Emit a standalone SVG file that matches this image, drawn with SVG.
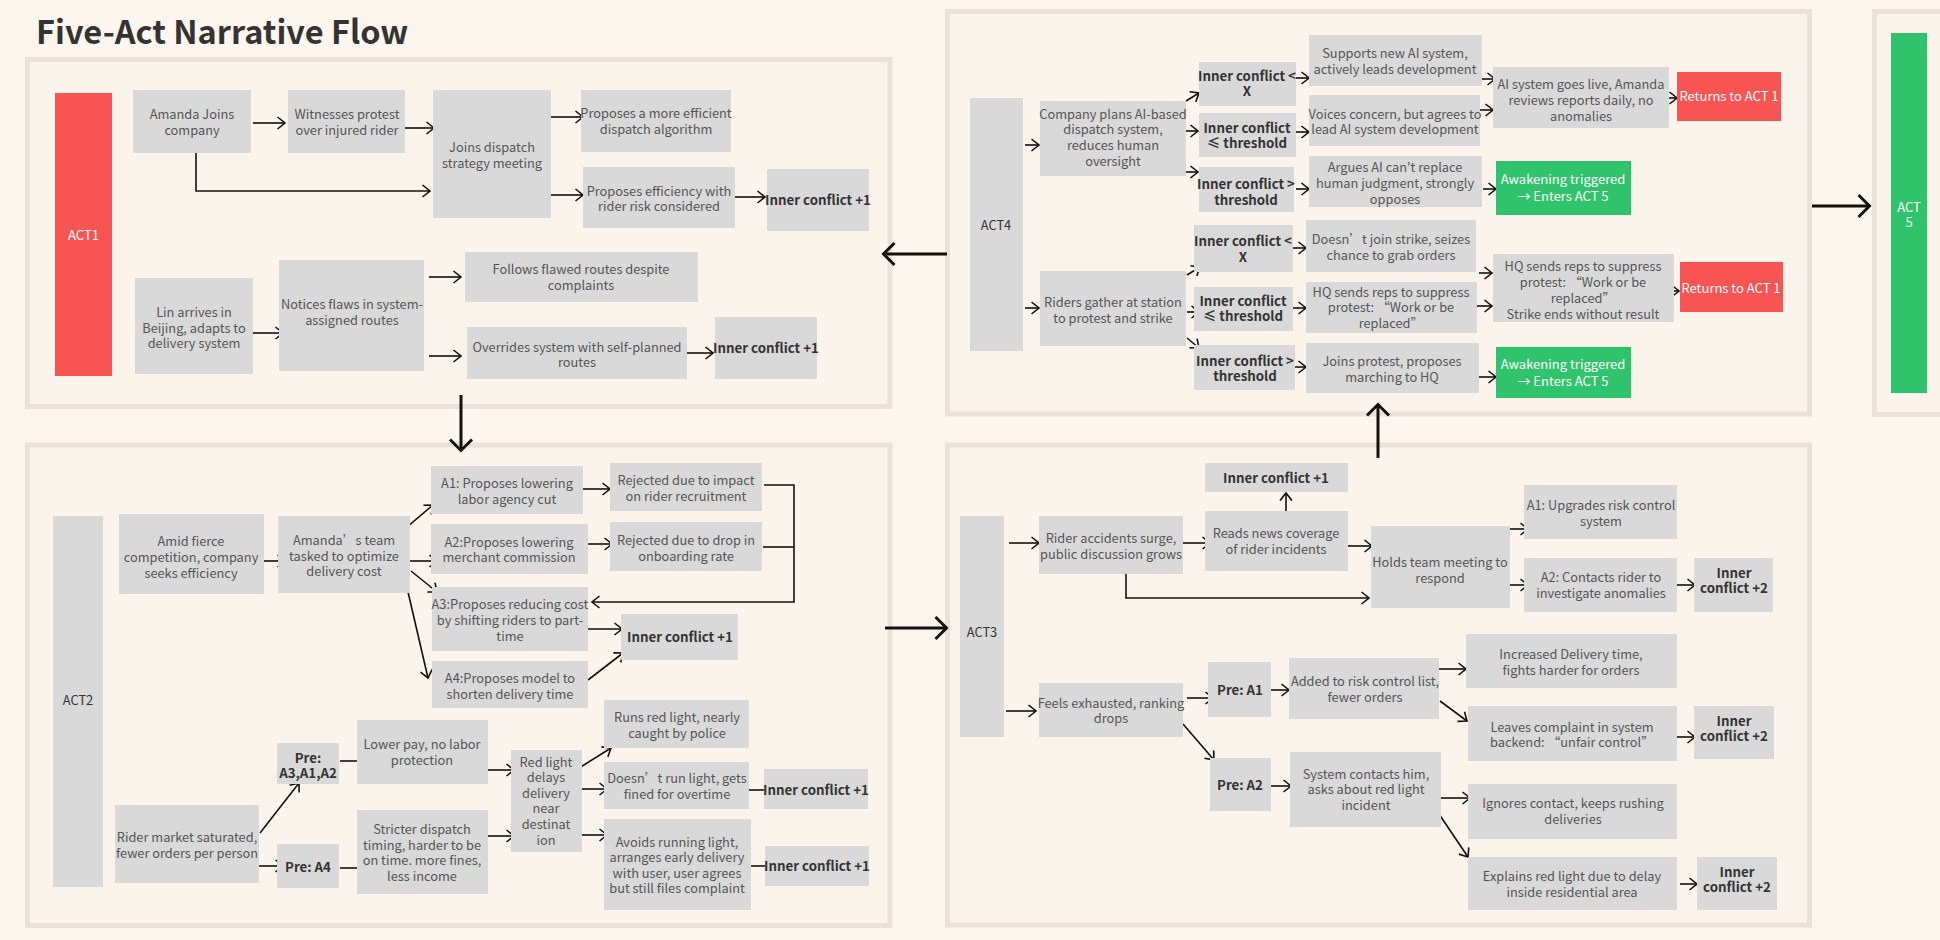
<svg xmlns="http://www.w3.org/2000/svg" width="1940" height="940" viewBox="0 0 1940 940">
<defs>
<style>
text{font-family:"Noto Sans CJK SC","Liberation Sans",sans-serif;font-size:12.8px;text-anchor:middle}
.panel{fill:#FBF4EC;stroke:#EAE2D8;stroke-width:5}
.box{fill:#D9D9D9}
.red{fill:#F95454}
.grn{fill:#2FC46B}
.t{fill:#555555}
.b{fill:#333333;font-weight:700;font-size:13.3px}
.d{fill:#333333}
.w{fill:#FFFFFF;font-size:13px}
.c{stroke:#111;stroke-width:1.6;fill:none;marker-end:url(#ah)}
.cn{stroke:#111;stroke-width:1.6;fill:none}
.big{stroke:#111;stroke-width:3;fill:none;marker-end:url(#bh)}
</style>
<marker id="ah" markerUnits="userSpaceOnUse" viewBox="0 0 10 14" markerWidth="10" markerHeight="14" refX="8.5" refY="7" orient="auto">
<path d="M1,1 L8.5,7 L1,13" fill="none" stroke="#111" stroke-width="1.6"/>
</marker>
<marker id="bh" markerUnits="userSpaceOnUse" viewBox="0 0 16 26" markerWidth="16" markerHeight="26" refX="13.5" refY="13" orient="auto">
<path d="M2,2 L13,13 L2,24" fill="none" stroke="#111" stroke-width="3"/>
</marker>
</defs>
<rect x="0" y="0" width="1940" height="940" fill="#FDF6EE"/>
<text x="36" y="44" style="font-size:32.5px;font-weight:700;text-anchor:start;fill:#333">Five-Act Narrative Flow</text>

<g id="panels">
<rect class="panel" x="27.5" y="59.5" width="862.5" height="347"/>
<rect class="panel" x="27.5" y="445" width="862.5" height="480.5"/>
<rect class="panel" x="947.5" y="445" width="862" height="480"/>
<rect class="panel" x="947.5" y="11.5" width="862" height="402.5"/>
<rect class="panel" x="1874.5" y="11.5" width="200" height="403"/>
</g>

<g id="connectors">
<!-- ACT1 -->
<line class="c" x1="253" y1="123" x2="285" y2="123"/>
<line class="c" x1="402" y1="128" x2="434" y2="128"/>
<polyline class="c" points="196,150 196,191 430,191"/>
<line class="c" x1="551" y1="117" x2="583" y2="117"/>
<line class="c" x1="551" y1="195" x2="583" y2="195"/>
<line class="c" x1="734" y1="197" x2="765" y2="197"/>
<line class="c" x1="251" y1="333" x2="283" y2="333"/>
<line class="c" x1="429" y1="277" x2="461" y2="277"/>
<line class="c" x1="429" y1="356" x2="461" y2="356"/>
<line class="c" x1="682" y1="353" x2="713" y2="353"/>
<!-- between acts -->
<line class="big" x1="461" y1="395" x2="461" y2="451"/>
<line class="big" x1="947" y1="254" x2="883" y2="254"/>
<line class="big" x1="885" y1="628" x2="947" y2="628"/>
<line class="big" x1="1378" y1="458" x2="1378" y2="404"/>
<line class="big" x1="1812" y1="206" x2="1870" y2="206"/>
<!-- ACT2 -->
<line class="c" x1="259" y1="561" x2="285" y2="561"/>
<line class="c" x1="407" y1="527" x2="433" y2="505"/>
<line class="c" x1="409" y1="561" x2="437" y2="561"/>
<line class="c" x1="411" y1="571" x2="437" y2="592"/>
<line class="c" x1="408" y1="592" x2="428" y2="678"/>
<line class="c" x1="583" y1="489" x2="610" y2="489"/>
<line class="c" x1="585" y1="544" x2="612" y2="544"/>
<polyline class="c" points="764,485 794,485 794,602 592,602"/>
<line class="cn" x1="763" y1="547" x2="794" y2="547"/>
<line class="c" x1="585" y1="629" x2="622" y2="629"/>
<line class="c" x1="588" y1="680" x2="623" y2="653"/>
<line class="c" x1="260" y1="833" x2="299" y2="783"/>
<line class="c" x1="258" y1="866" x2="283" y2="866"/>
<line class="c" x1="340" y1="761" x2="367" y2="761"/>
<line class="c" x1="340" y1="868" x2="367" y2="868"/>
<line class="c" x1="487" y1="770" x2="514" y2="770"/>
<line class="c" x1="487" y1="836" x2="514" y2="836"/>
<line class="c" x1="579" y1="768" x2="611" y2="748"/>
<line class="c" x1="582" y1="789" x2="607" y2="789"/>
<line class="c" x1="582" y1="835" x2="607" y2="835"/>
<line class="cn" x1="748" y1="790" x2="764" y2="790"/>
<line class="cn" x1="751" y1="866" x2="765" y2="866"/>
<!-- ACT3 -->
<line class="c" x1="1009" y1="543" x2="1039" y2="543"/>
<line class="c" x1="1180" y1="543" x2="1210" y2="543"/>
<line class="c" x1="1286" y1="519" x2="1286" y2="493"/>
<line class="c" x1="1342" y1="546" x2="1372" y2="546"/>
<polyline class="c" points="1126,573 1126,598 1369,598"/>
<line class="c" x1="1510" y1="529" x2="1528" y2="529"/>
<line class="c" x1="1510" y1="585" x2="1528" y2="585"/>
<line class="c" x1="1677" y1="585" x2="1695" y2="585"/>
<line class="c" x1="1006" y1="711" x2="1036" y2="711"/>
<line class="c" x1="1187" y1="698" x2="1213" y2="698"/>
<line class="c" x1="1183" y1="724" x2="1214" y2="760"/>
<line class="c" x1="1270" y1="690" x2="1289" y2="690"/>
<line class="c" x1="1271" y1="786" x2="1291" y2="786"/>
<line class="c" x1="1436" y1="669" x2="1466" y2="669"/>
<line class="c" x1="1440" y1="701" x2="1467" y2="721"/>
<line class="c" x1="1677" y1="737" x2="1695" y2="737"/>
<line class="c" x1="1439" y1="798" x2="1470" y2="798"/>
<line class="c" x1="1439" y1="814" x2="1468" y2="857"/>
<line class="c" x1="1680" y1="884" x2="1697" y2="884"/>
<!-- ACT4 -->
<line class="c" x1="1025" y1="145" x2="1039" y2="145"/>
<line class="c" x1="1025" y1="308" x2="1039" y2="308"/>
<line class="c" x1="1186" y1="101" x2="1199" y2="93"/>
<line class="c" x1="1184" y1="131" x2="1198" y2="131"/>
<line class="c" x1="1184" y1="172" x2="1198" y2="172"/>
<line class="c" x1="1296" y1="78" x2="1309" y2="78"/>
<line class="c" x1="1296" y1="132" x2="1309" y2="132"/>
<line class="c" x1="1296" y1="189" x2="1309" y2="189"/>
<line class="c" x1="1187" y1="275" x2="1200" y2="267"/>
<line class="c" x1="1187" y1="312" x2="1199" y2="312"/>
<line class="c" x1="1187" y1="338" x2="1199" y2="348"/>
<line class="c" x1="1293" y1="248" x2="1306" y2="248"/>
<line class="c" x1="1293" y1="308" x2="1306" y2="308"/>
<line class="c" x1="1293" y1="367" x2="1306" y2="367"/>
<line class="c" x1="1482" y1="79" x2="1495" y2="79"/>
<line class="c" x1="1480" y1="110" x2="1493" y2="110"/>
<line class="c" x1="1662" y1="98" x2="1677" y2="98"/>
<line class="c" x1="1483" y1="189" x2="1496" y2="189"/>
<line class="c" x1="1479" y1="273" x2="1492" y2="273"/>
<line class="c" x1="1477" y1="306" x2="1492" y2="306"/>
<line class="c" x1="1665" y1="291" x2="1679" y2="291"/>
<line class="c" x1="1479" y1="377" x2="1496" y2="377"/>
</g>

<!-- ACT1 nodes -->
<g id="act1"><rect class="red" x="55" y="93" width="57" height="283"/><text class="w" x="83.5" y="240">ACT1</text></g>
<g id="n_amanda"><rect class="box" x="133" y="90" width="118" height="63"/><text class="t"><tspan x="192" y="119">Amanda Joins</tspan><tspan x="192" y="135">company</tspan></text></g>
<g id="n_witness"><rect class="box" x="288" y="90" width="117" height="63"/><text class="t"><tspan x="347" y="119">Witnesses protest</tspan><tspan x="347" y="135">over injured rider</tspan></text></g>
<g id="n_joins"><rect class="box" x="433" y="90" width="118" height="128"/><text class="t"><tspan x="492" y="152">Joins dispatch</tspan><tspan x="492" y="168">strategy meeting</tspan></text></g>
<g id="n_prop1"><rect class="box" x="581" y="90" width="150" height="62"/><text class="t"><tspan x="656" y="118">Proposes a more efficient</tspan><tspan x="656" y="134">dispatch algorithm</tspan></text></g>
<g id="n_prop2"><rect class="box" x="583" y="167" width="152" height="61"/><text class="t"><tspan x="659" y="196">Proposes efficiency with</tspan><tspan x="659" y="211">rider risk considered</tspan></text></g>
<g id="n_ic1"><rect class="box" x="767" y="169" width="102" height="62"/><text class="b" x="818" y="205">Inner conflict +1</text></g>
<g id="n_lin"><rect class="box" x="135" y="278" width="118" height="96"/><text class="t"><tspan x="194" y="317">Lin arrives in</tspan><tspan x="194" y="333">Beijing, adapts to</tspan><tspan x="194" y="348">delivery system</tspan></text></g>
<g id="n_notices"><rect class="box" x="279" y="260" width="145" height="111"/><text class="t"><tspan x="352" y="309">Notices flaws in system-</tspan><tspan x="352" y="325">assigned routes</tspan></text></g>
<g id="n_follows"><rect class="box" x="465" y="252" width="233" height="50"/><text class="t"><tspan x="581" y="274">Follows flawed routes despite</tspan><tspan x="581" y="290">complaints</tspan></text></g>
<g id="n_overrides"><rect class="box" x="467" y="327" width="220" height="52"/><text class="t"><tspan x="577" y="352">Overrides system with self-planned</tspan><tspan x="577" y="367">routes</tspan></text></g>
<g id="n_ic2"><rect class="box" x="715" y="317" width="102" height="62"/><text class="b" x="766" y="353">Inner conflict +1</text></g>

<!-- ACT2 nodes -->
<g id="act2"><rect class="box" x="53" y="516" width="50" height="371"/><text class="d" x="78" y="705">ACT2</text></g>
<g id="n_amid"><rect class="box" x="119" y="514" width="145" height="80"/><text class="t"><tspan x="191" y="546">Amid fierce</tspan><tspan x="191" y="562">competition, company</tspan><tspan x="191" y="578">seeks efficiency</tspan></text></g>
<g id="n_team"><rect class="box" x="278" y="516" width="132" height="77"/><text class="t"><tspan x="344" y="545">Amanda’s team</tspan><tspan x="344" y="561">tasked to optimize</tspan><tspan x="344" y="576">delivery cost</tspan></text></g>
<g id="n_a1"><rect class="box" x="431" y="466" width="152" height="48"/><text class="t"><tspan x="507" y="488">A1: Proposes lowering</tspan><tspan x="507" y="504">labor agency cut</tspan></text></g>
<g id="n_a2"><rect class="box" x="431" y="524" width="157" height="50"/><text class="t"><tspan x="509" y="547">A2:Proposes lowering</tspan><tspan x="509" y="562">merchant commission</tspan></text></g>
<g id="n_a3"><rect class="box" x="432" y="587" width="156" height="64"/><text class="t"><tspan x="510" y="609">A3:Proposes reducing cost</tspan><tspan x="510" y="625">by shifting riders to part-</tspan><tspan x="510" y="641">time</tspan></text></g>
<g id="n_a4"><rect class="box" x="432" y="661" width="156" height="47"/><text class="t"><tspan x="510" y="683">A4:Proposes model to</tspan><tspan x="510" y="699">shorten delivery time</tspan></text></g>
<g id="n_rej1"><rect class="box" x="610" y="463" width="152" height="48"/><text class="t"><tspan x="686" y="485">Rejected due to impact</tspan><tspan x="686" y="501">on rider recruitment</tspan></text></g>
<g id="n_rej2"><rect class="box" x="610" y="522" width="152" height="49"/><text class="t"><tspan x="686" y="545">Rejected due to drop in</tspan><tspan x="686" y="561">onboarding rate</tspan></text></g>
<g id="n_ic3"><rect class="box" x="621" y="614" width="117" height="46"/><text class="b" x="680" y="642">Inner conflict +1</text></g>
<g id="n_rider"><rect class="box" x="115" y="805" width="144" height="78"/><text class="t"><tspan x="187" y="842">Rider market saturated,</tspan><tspan x="187" y="858">fewer orders per person</tspan></text></g>
<g id="n_prea3"><rect class="box" x="277" y="743" width="62" height="41"/><text class="b"><tspan x="308" y="763">Pre:</tspan><tspan x="308" y="778">A3,A1,A2</tspan></text></g>
<g id="n_prea4"><rect class="box" x="277" y="844" width="62" height="44"/><text class="b" x="308" y="872">Pre: A4</text></g>
<g id="n_lower"><rect class="box" x="357" y="720" width="131" height="64"/><text class="t"><tspan x="422" y="749">Lower pay, no labor</tspan><tspan x="422" y="765">protection</tspan></text></g>
<g id="n_strict"><rect class="box" x="357" y="810" width="131" height="84"/><text class="t"><tspan x="422" y="834">Stricter dispatch</tspan><tspan x="422" y="850">timing, harder to be</tspan><tspan x="422" y="865">on time. more fines,</tspan><tspan x="422" y="881">less income</tspan></text></g>
<g id="n_red"><rect class="box" x="511" y="750" width="71" height="102"/><text class="t"><tspan x="546" y="767">Red light</tspan><tspan x="546" y="782">delays</tspan><tspan x="546" y="798">delivery</tspan><tspan x="546" y="813">near</tspan><tspan x="546" y="829">destinat</tspan><tspan x="546" y="845">ion</tspan></text></g>
<g id="n_runs"><rect class="box" x="604" y="700" width="145" height="48"/><text class="t"><tspan x="677" y="722">Runs red light, nearly</tspan><tspan x="677" y="738">caught by police</tspan></text></g>
<g id="n_doesnt"><rect class="box" x="604" y="762" width="145" height="47"/><text class="t"><tspan x="677" y="783">Doesn’t run light, gets</tspan><tspan x="677" y="799">fined for overtime</tspan></text></g>
<g id="n_avoids"><rect class="box" x="604" y="819" width="147" height="91"/><text class="t"><tspan x="677" y="847">Avoids running light,</tspan><tspan x="677" y="862">arranges early delivery</tspan><tspan x="677" y="878">with user, user agrees</tspan><tspan x="677" y="893">but still files complaint</tspan></text></g>
<g id="n_ic4"><rect class="box" x="764" y="769" width="104" height="40"/><text class="b" x="816" y="795">Inner conflict +1</text></g>
<g id="n_ic5"><rect class="box" x="765" y="846" width="104" height="40"/><text class="b" x="817" y="871">Inner conflict +1</text></g>

<!-- ACT3 nodes -->
<g id="act3"><rect class="box" x="960" y="516" width="44" height="221"/><text class="d" x="982" y="637">ACT3</text></g>
<g id="n_acc"><rect class="box" x="1039" y="516" width="144" height="58"/><text class="t"><tspan x="1111" y="543">Rider accidents surge,</tspan><tspan x="1111" y="559">public discussion grows</tspan></text></g>
<g id="n_reads"><rect class="box" x="1205" y="511" width="143" height="60"/><text class="t"><tspan x="1276" y="538">Reads news coverage</tspan><tspan x="1276" y="554">of rider incidents</tspan></text></g>
<g id="n_ic6"><rect class="box" x="1205" y="463" width="143" height="29"/><text class="b" x="1276" y="483">Inner conflict +1</text></g>
<g id="n_holds"><rect class="box" x="1371" y="526" width="139" height="82"/><text class="t"><tspan x="1440" y="567">Holds team meeting to</tspan><tspan x="1440" y="583">respond</tspan></text></g>
<g id="n_up1"><rect class="box" x="1524" y="485" width="153" height="54"/><text class="t"><tspan x="1601" y="510">A1: Upgrades risk control</tspan><tspan x="1601" y="526">system</tspan></text></g>
<g id="n_up2"><rect class="box" x="1524" y="558" width="153" height="54"/><text class="t"><tspan x="1601" y="582">A2: Contacts rider to</tspan><tspan x="1601" y="598">investigate anomalies</tspan></text></g>
<g id="n_ic7"><rect class="box" x="1694" y="558" width="79" height="54"/><text class="b"><tspan x="1734" y="578">Inner</tspan><tspan x="1734" y="593">conflict +2</tspan></text></g>
<g id="n_feels"><rect class="box" x="1039" y="683" width="144" height="54"/><text class="t"><tspan x="1111" y="708">Feels exhausted, ranking</tspan><tspan x="1111" y="723">drops</tspan></text></g>
<g id="n_pa1"><rect class="box" x="1208" y="662" width="63" height="55"/><text class="b" x="1240" y="695">Pre: A1</text></g>
<g id="n_pa2"><rect class="box" x="1210" y="758" width="61" height="53"/><text class="b" x="1240" y="790">Pre: A2</text></g>
<g id="n_added"><rect class="box" x="1289" y="658" width="150" height="61"/><text class="t"><tspan x="1365" y="686">Added to risk control list,</tspan><tspan x="1365" y="702">fewer orders</tspan></text></g>
<g id="n_sys"><rect class="box" x="1290" y="752" width="151" height="75"/><text class="t"><tspan x="1366" y="779">System contacts him,</tspan><tspan x="1366" y="794">asks about red light</tspan><tspan x="1366" y="810">incident</tspan></text></g>
<g id="n_incr"><rect class="box" x="1466" y="634" width="211" height="54"/><text class="t"><tspan x="1571" y="659">Increased Delivery time,</tspan><tspan x="1571" y="675">fights harder for orders</tspan></text></g>
<g id="n_leaves"><rect class="box" x="1468" y="706" width="209" height="55"/><text class="t"><tspan x="1572" y="732">Leaves complaint in system</tspan><tspan x="1572" y="747">backend: “unfair control”</tspan></text></g>
<g id="n_ic8"><rect class="box" x="1694" y="706" width="80" height="53"/><text class="b"><tspan x="1734" y="726">Inner</tspan><tspan x="1734" y="741">conflict +2</tspan></text></g>
<g id="n_ignores"><rect class="box" x="1468" y="784" width="209" height="55"/><text class="t"><tspan x="1573" y="808">Ignores contact, keeps rushing</tspan><tspan x="1573" y="824">deliveries</tspan></text></g>
<g id="n_explains"><rect class="box" x="1468" y="857" width="209" height="53"/><text class="t"><tspan x="1572" y="881">Explains red light due to delay</tspan><tspan x="1572" y="897">inside residential area</tspan></text></g>
<g id="n_ic9"><rect class="box" x="1697" y="857" width="80" height="53"/><text class="b"><tspan x="1737" y="877">Inner</tspan><tspan x="1737" y="892">conflict +2</tspan></text></g>

<!-- ACT4 nodes -->
<g id="act4"><rect class="box" x="970" y="98" width="53" height="253"/><text class="d" x="996" y="230">ACT4</text></g>
<g id="n_company"><rect class="box" x="1040" y="101" width="146" height="75"/><text class="t"><tspan x="1113" y="119">Company plans AI-based</tspan><tspan x="1113" y="134">dispatch system,</tspan><tspan x="1113" y="150">reduces human</tspan><tspan x="1113" y="166">oversight</tspan></text></g>
<g id="n_riders"><rect class="box" x="1040" y="271" width="146" height="75"/><text class="t"><tspan x="1113" y="307">Riders gather at station</tspan><tspan x="1113" y="323">to protest and strike</tspan></text></g>
<g id="n_icx1"><rect class="box" x="1199" y="62" width="97" height="44"/><text class="b"><tspan x="1247" y="81">Inner conflict &lt;</tspan><tspan x="1247" y="96">X</tspan></text></g>
<g id="n_ict1"><rect class="box" x="1199" y="113" width="97" height="44"/><text class="b"><tspan x="1247" y="133">Inner conflict</tspan><tspan x="1247" y="148">≤ threshold</tspan></text></g>
<g id="n_icg1"><rect class="box" x="1199" y="167" width="95" height="45"/><text class="b"><tspan x="1246" y="189">Inner conflict &gt;</tspan><tspan x="1246" y="205">threshold</tspan></text></g>
<g id="n_supports"><rect class="box" x="1309" y="35" width="173" height="51"/><text class="t"><tspan x="1395" y="58">Supports new AI system,</tspan><tspan x="1395" y="74">actively leads development</tspan></text></g>
<g id="n_voices"><rect class="box" x="1309" y="95" width="171" height="51"/><text class="t"><tspan x="1395" y="119">Voices concern, but agrees to</tspan><tspan x="1395" y="134">lead AI system development</tspan></text></g>
<g id="n_argues"><rect class="box" x="1309" y="156" width="173" height="51"/><text class="t"><tspan x="1395" y="172">Argues AI can't replace</tspan><tspan x="1395" y="188">human judgment, strongly</tspan><tspan x="1395" y="204">opposes</tspan></text></g>
<g id="n_ai"><rect class="box" x="1493" y="67" width="176" height="61"/><text class="t"><tspan x="1581" y="89">AI system goes live, Amanda</tspan><tspan x="1581" y="105">reviews reports daily, no</tspan><tspan x="1581" y="121">anomalies</tspan></text></g>
<g id="n_ret1"><rect class="red" x="1677" y="72" width="104" height="49"/><text class="w" x="1729" y="101">Returns to ACT 1</text></g>
<g id="n_awk1"><rect class="grn" x="1496" y="161" width="135" height="54"/><text class="w"><tspan x="1563" y="184">Awakening triggered</tspan><tspan x="1563" y="201">→ Enters ACT 5</tspan></text></g>
<g id="n_icx2"><rect class="box" x="1194" y="225" width="99" height="47"/><text class="b"><tspan x="1243" y="246">Inner conflict &lt;</tspan><tspan x="1243" y="262">X</tspan></text></g>
<g id="n_ict2"><rect class="box" x="1194" y="287" width="99" height="44"/><text class="b"><tspan x="1243" y="306">Inner conflict</tspan><tspan x="1243" y="321">≤ threshold</tspan></text></g>
<g id="n_icg2"><rect class="box" x="1194" y="345" width="101" height="45"/><text class="b"><tspan x="1245" y="366">Inner conflict &gt;</tspan><tspan x="1245" y="381">threshold</tspan></text></g>
<g id="n_doesntjoin"><rect class="box" x="1306" y="220" width="170" height="52"/><text class="t"><tspan x="1391" y="244">Doesn’t join strike, seizes</tspan><tspan x="1391" y="260">chance to grab orders</tspan></text></g>
<g id="n_hq1"><rect class="box" x="1306" y="282" width="171" height="51"/><text class="t"><tspan x="1391" y="297">HQ sends reps to suppress</tspan><tspan x="1391" y="312">protest: “Work or be</tspan><tspan x="1391" y="328">replaced”</tspan></text></g>
<g id="n_joinsp"><rect class="box" x="1306" y="343" width="173" height="50"/><text class="t"><tspan x="1392" y="366">Joins protest, proposes</tspan><tspan x="1392" y="382">marching to HQ</tspan></text></g>
<g id="n_hq2"><rect class="box" x="1493" y="254" width="181" height="68"/><text class="t"><tspan x="1583" y="271">HQ sends reps to suppress</tspan><tspan x="1583" y="287">protest: “Work or be</tspan><tspan x="1583" y="303">replaced”</tspan><tspan x="1583" y="319">Strike ends without result</tspan></text></g>
<g id="n_ret2"><rect class="red" x="1680" y="262" width="103" height="50"/><text class="w" x="1731" y="293">Returns to ACT 1</text></g>
<g id="n_awk2"><rect class="grn" x="1496" y="347" width="135" height="51"/><text class="w"><tspan x="1563" y="369">Awakening triggered</tspan><tspan x="1563" y="386">→ Enters ACT 5</tspan></text></g>

<!-- ACT5 -->
<g id="act5"><rect class="grn" x="1891" y="33" width="36" height="360"/><text class="w"><tspan x="1909" y="212">ACT</tspan><tspan x="1909" y="227">5</tspan></text></g>
</svg>
